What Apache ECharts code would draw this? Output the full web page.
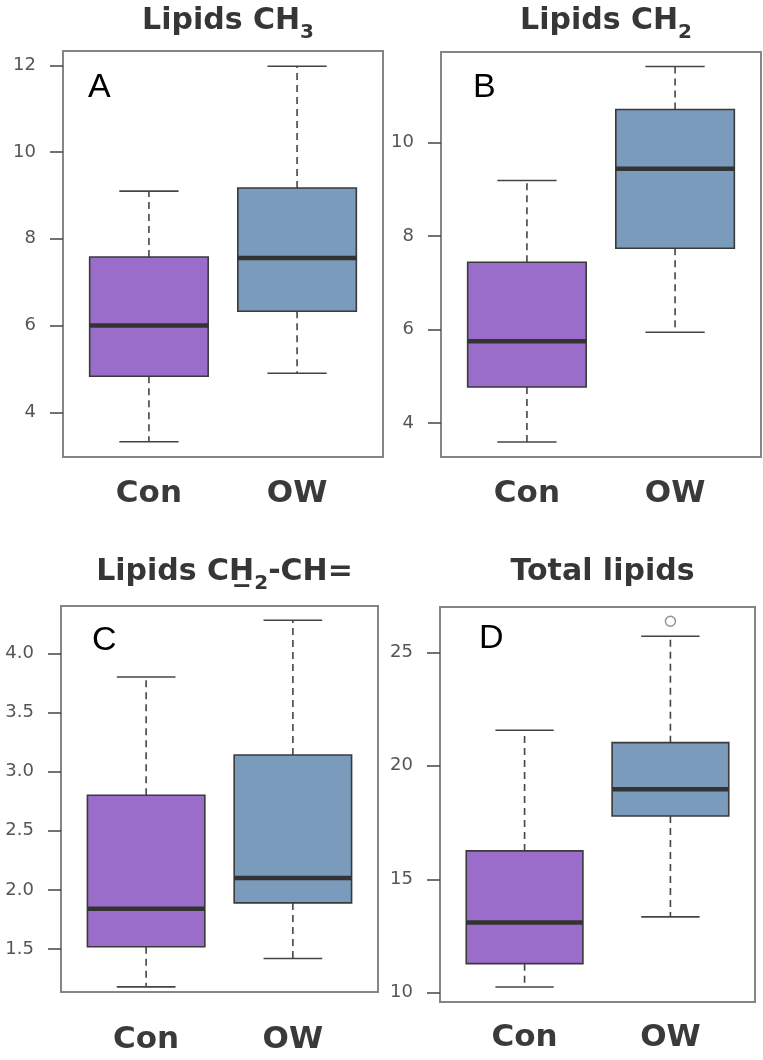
<!DOCTYPE html>
<html>
<head>
<meta charset="utf-8">
<script src="https://cdn.jsdelivr.net/npm/echarts@6/dist/echarts.min.js"></script>
<style>html,body{margin:0;padding:0;background:#fff}#c{width:763px;height:1060px}</style>
</head>
<body>
<div id="c"></div>
<script>
// ---- data ----
const categories = ['Con', 'OW'];
// [lower whisker, Q1, median, Q3, upper whisker]
const conCH3 = [3.32, 4.83, 6.00, 7.58, 9.10];
const owCH3 = [4.90, 6.33, 7.56, 9.17, 11.98];
const conCH2 = [3.59, 4.77, 5.75, 7.44, 9.19];
const owCH2 = [5.94, 7.74, 9.44, 10.71, 11.63];
const conCH2CH = [1.18, 1.52, 1.84, 2.80, 3.80];
const owCH2CH = [1.42, 1.89, 2.10, 3.14, 4.28];
const conTotal = [10.25, 11.28, 13.09, 16.25, 21.57];
const owTotal = [13.34, 17.79, 18.97, 21.02, 25.71];
const owTotalOutliers = [26.37];
const ticksA = [4, 6, 8, 10, 12];
const ticksB = [4, 6, 8, 10];
const ticksC = [1.5, 2.0, 2.5, 3.0, 3.5, 4.0];
const ticksD = [10, 15, 20, 25];
const rangeA = [2.97, 12.33];
const rangeB = [3.27, 11.94];
const rangeC = [1.137, 4.40];
const rangeD = [9.59, 27.0];
const panelLetters = ['A', 'B', 'C', 'D'];

const boxColors = ['#9a6dcb', '#7a9bbb'];

const grids = [
  {left: 63, top: 51, width: 320, height: 406},
  {left: 441, top: 52, width: 320, height: 405},
  {left: 61, top: 606, width: 317, height: 386},
  {left: 440, top: 607, width: 315, height: 395}
];
const labelMargins = [21, 21, 32, 20];

const titleFont = 'DejaVu Sans';
const rich = {
  m: {fontFamily: titleFont, fontWeight: 'bold', fontSize: 30, color: '#363636', lineHeight: 34, verticalAlign: 'top'},
  s: {fontFamily: titleFont, fontWeight: 'bold', fontSize: 20, color: '#363636', lineHeight: 20, padding: [17, 0, 0, 0], verticalAlign: 'top'}
};
const titleTexts = [
  '{m|Lipids CH}{s|3}',
  '{m|Lipids CH}{s|2}',
  '{m|Lipids C}{m|H\u0332}{s|2}{m|-CH=}',
  '{m|Total lipids}'
];
const titleTops = [1, 1, 552, 552];

function makeRender() {
  return function (params, api) {
    const x = api.value(0);
    const v = [1, 2, 3, 4, 5].map(i => api.value(i));
    const p = v.map(val => api.coord([x, val]));
    const cx = p[0][0];
    const bw = api.size([0.8, 0])[0];
    const cw = api.size([0.4, 0])[0];
    const ls = {stroke: '#444', lineWidth: 1.6};
    return {
      type: 'group',
      children: [
        {type: 'line', shape: {x1: cx, y1: p[3][1], x2: cx, y2: p[4][1]}, style: Object.assign({lineDash: [7, 5]}, ls)},
        {type: 'line', shape: {x1: cx, y1: p[1][1], x2: cx, y2: p[0][1]}, style: Object.assign({lineDash: [7, 5]}, ls)},
        {type: 'line', shape: {x1: cx - cw / 2, y1: p[4][1], x2: cx + cw / 2, y2: p[4][1]}, style: ls},
        {type: 'line', shape: {x1: cx - cw / 2, y1: p[0][1], x2: cx + cw / 2, y2: p[0][1]}, style: ls},
        {type: 'rect', shape: {x: cx - bw / 2, y: p[3][1], width: bw, height: p[1][1] - p[3][1]},
         style: {fill: boxColors[params.dataIndex], stroke: '#3a3a3a', lineWidth: 1.6}},
        {type: 'line', shape: {x1: cx - bw / 2, y1: p[2][1], x2: cx + bw / 2, y2: p[2][1]}, style: {stroke: '#333', lineWidth: 4.5}}
      ]
    };
  };
}

const panels = [
  {con: conCH3, ow: owCH3, ticks: ticksA, range: rangeA, fmt: v => String(v)},
  {con: conCH2, ow: owCH2, ticks: ticksB, range: rangeB, fmt: v => String(v)},
  {con: conCH2CH, ow: owCH2CH, ticks: ticksC, range: rangeC, fmt: v => Number(v).toFixed(1)},
  {con: conTotal, ow: owTotal, ticks: ticksD, range: rangeD, fmt: v => String(v)}
];

const option = {
  backgroundColor: '#fff',
  animation: false,
  grid: grids.map(g => Object.assign({show: true, borderColor: '#858585', borderWidth: 2, backgroundColor: '#fff'}, g)),
  title: titleTexts.map((t, i) => ({
    text: t,
    left: grids[i].left + grids[i].width / 2,
    top: titleTops[i],
    textAlign: 'center',
    textStyle: {rich: rich}
  })),
  xAxis: panels.map((p, i) => ({
    type: 'value', gridIndex: i, min: 0.42, max: 2.58,
    splitLine: {show: false}, axisLine: {show: false}, axisTick: {show: false},
    axisLabel: {
      customValues: [1, 2],
      formatter: v => categories[Math.round(v) - 1],
      fontFamily: titleFont, fontWeight: 'bold', fontSize: 31, color: '#3a3a3a', margin: labelMargins[i]
    }
  })),
  yAxis: panels.map((p, i) => ({
    type: 'value', gridIndex: i, min: p.range[0], max: p.range[1],
    splitLine: {show: false},
    axisLine: {show: false},
    axisTick: {show: true, customValues: p.ticks, length: 13, lineStyle: {color: '#444', width: 1.5}},
    axisLabel: {customValues: p.ticks, formatter: p.fmt, fontFamily: 'DejaVu Sans', fontSize: 18, color: '#555', margin: 27}
  })),
  series: panels.map((p, i) => ({
    type: 'custom', xAxisIndex: i, yAxisIndex: i,
    renderItem: makeRender(),
    encode: {x: 0, y: [1, 2, 3, 4, 5]},
    data: [[1].concat(p.con), [2].concat(p.ow)],
    z: 2
  })).concat([{
    type: 'scatter', xAxisIndex: 3, yAxisIndex: 3,
    data: owTotalOutliers.map(v => [2, v]),
    symbol: 'circle', symbolSize: 10,
    itemStyle: {color: '#fff', borderColor: '#777', borderWidth: 1.5},
    z: 3
  }]),
  graphic: panelLetters.map((L, i) => ({
    type: 'text',
    x: [88, 473, 92, 479][i],
    y: [88, 88, 641, 639][i],
    style: {text: L, fontFamily: 'Liberation Sans', fontSize: 34, fill: '#000', verticalAlign: 'middle', align: 'left'},
    z: 10
  }))
};

const chart = echarts.init(document.getElementById('c'), null, {renderer: 'canvas'});
chart.setOption(option);
</script>
</body>
</html>
